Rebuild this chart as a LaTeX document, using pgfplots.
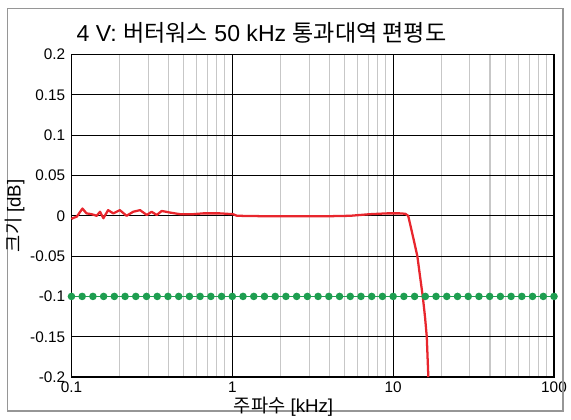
\documentclass[border=0pt]{standalone}
\usepackage{fontspec}
\usepackage{pgfplots}
\pgfplotsset{compat=1.18}
\setmainfont{Liberation Sans}
\newfontfamily\kr{Noto Sans CJK KR}
\definecolor{redl}{RGB}{232,38,45}
\definecolor{greenl}{RGB}{30,158,80}
\definecolor{framegray}{RGB}{150,150,150}
\begin{document}
\begin{tikzpicture}
\begin{axis}[name=ax, scale only axis, width=361.9pt, height=241.9pt,
 xmode=log, xmin=0.1, xmax=100, ymin=-0.2, ymax=0.2,
 xtick={0.1,1,10,100}, xticklabels={0.1,1,10,100},
 minor xtick={0.2,0.3,0.4,0.5,0.6,0.7,0.8,0.9,2,3,4,5,6,7,8,9,20,30,40,50,60,70,80,90},
 ytick={-0.2,-0.15,-0.1,-0.05,0,0.05,0.1,0.15,0.2},
 yticklabels={-0.2,-0.15,-0.1,-0.05,0,0.05,0.1,0.15,0.2},
 grid=both,
 major grid style={black, line width=0.8pt},
 minor grid style={black!22, line width=0.8pt},
 axis line style={black, line width=1.1pt},
 tick style={draw=none},
 ticklabel style={font=\fontsize{11.5}{12}\selectfont},
 yticklabel style={anchor=east, inner sep=0pt, xshift=-4.5pt},
 xticklabel style={anchor=north, inner sep=0pt, yshift=-3.5pt},
 clip=false]
\addplot[greenl, line width=1.2pt, mark=*, mark size=2.2pt, mark options={fill=greenl, draw=none}] coordinates {
(0.1,-0.1)(0.11659,-0.1)(0.13594,-0.1)(0.15849,-0.1)(0.18478,-0.1)(0.21544,-0.1)(0.25119,-0.1)(0.29286,-0.1)(0.34145,-0.1)(0.39811,-0.1)(0.46416,-0.1)(0.54117,-0.1)(0.63096,-0.1)(0.73564,-0.1)(0.85770,-0.1)
(1,-0.1)(1.1659,-0.1)(1.3594,-0.1)(1.5849,-0.1)(1.8478,-0.1)(2.1544,-0.1)(2.5119,-0.1)(2.9286,-0.1)(3.4145,-0.1)(3.9811,-0.1)(4.6416,-0.1)(5.4117,-0.1)(6.3096,-0.1)(7.3564,-0.1)(8.5770,-0.1)
(10,-0.1)(11.659,-0.1)(13.594,-0.1)(15.849,-0.1)(18.478,-0.1)(21.544,-0.1)(25.119,-0.1)(29.286,-0.1)(34.145,-0.1)(39.811,-0.1)(46.416,-0.1)(54.117,-0.1)(63.096,-0.1)(73.564,-0.1)(85.770,-0.1)(100,-0.1)
};
\addplot[redl, line width=1.7pt, line join=round] coordinates {
(0.1,-0.004)(0.1017,-0.003)(0.108,-0.001)(0.117,0.009)(0.124,0.003)(0.1335,0.002)(0.1435,0.0)(0.1505,0.005)(0.158,-0.003)(0.169,0.007)(0.182,0.003)(0.2,0.007)(0.22,0.0)(0.242,0.005)(0.267,0.007)(0.294,0.001)(0.315,0.005)(0.339,0.001)(0.364,0.006)(0.41,0.004)(0.473,0.002)(0.57,0.002)(0.658,0.003)(0.838,0.003)(1.01,0.002)(1.07,0.0)(1.55,-0.0005)(2.52,-0.0005)(4.05,-0.0005)(5.4,0.0)(7.18,0.002)(9.16,0.003)(11.0,0.003)(11.9,0.0025)(12.4,0.0)(12.74,-0.01)(13.36,-0.028)(14.14,-0.05)(14.69,-0.075)(15.28,-0.1)(15.79,-0.126)(16.18,-0.15)(16.55,-0.2)
};
\end{axis}
\draw[framegray, line width=1pt] ([xshift=-48pt,yshift=-25.5pt]ax.south west) rectangle ([xshift=6.75pt,yshift=34.5pt]ax.north east);
\node[font=\fontsize{17.3}{19}\selectfont] at ([xshift=142.5pt,yshift=16.1pt]ax.north west) {4 V: {\kr 버터워스} 50 kHz {\kr 통과대역 편평도}};
\node[font=\fontsize{14}{16}\selectfont, inner sep=0pt] at ([xshift=159pt,yshift=-22pt]ax.south west) {{\kr 주파수} [kHz]};
\node[font=\fontsize{14}{16}\selectfont, rotate=90] at ([xshift=-42.4pt]ax.west) {{\kr 크기} [dB]};
\pgfresetboundingbox
\path ([xshift=-53.6pt,yshift=-31.5pt]ax.south west) rectangle ([xshift=12.75pt,yshift=40.9pt]ax.north east);
\end{tikzpicture}
\end{document}
